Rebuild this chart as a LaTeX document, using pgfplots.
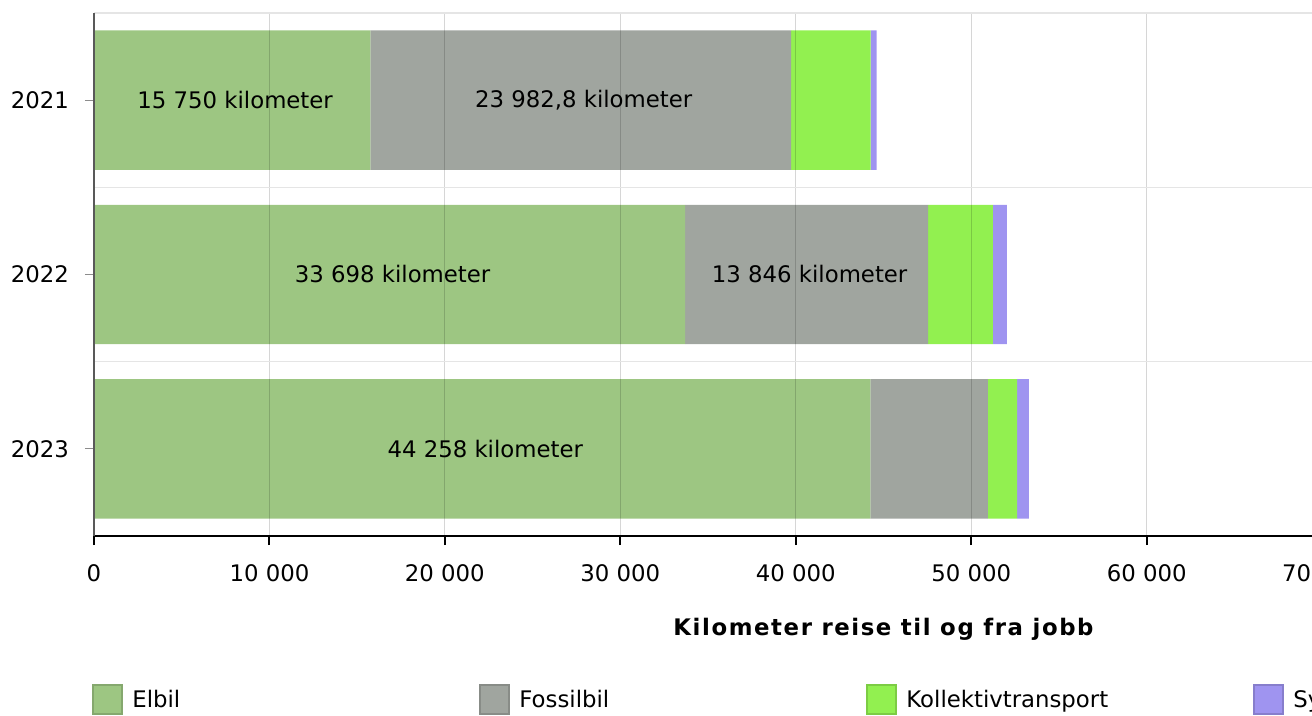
\documentclass[border=0pt]{standalone}
\usepackage{fontspec}
\setmainfont{DejaVu Sans}
\usepackage{pgfplots}
\pgfplotsset{compat=1.18}
\definecolor{elbil}{HTML}{9DC682}
\definecolor{fossil}{HTML}{A0A59F}
\definecolor{koll}{HTML}{92F050}
\definecolor{sykkel}{HTML}{9F94F0}
\newcommand{\fs}{\fontsize{11.4}{13.5}\selectfont}
\begin{document}
\begin{tikzpicture}[font=\fs]
\path[use as bounding box] (0pt,-358pt) rectangle (656pt,0pt);
\clip (0pt,-358pt) rectangle (656pt,0pt);
\begin{axis}[
  at={(47pt,-268pt)}, anchor=south west,
  scale only axis, width=789.5pt, height=261.5pt,
  xbar stacked, bar width=0.8,
  xmin=0, xmax=90000, ymin=-0.5, ymax=2.5,
  xtick={0,10000,...,90000},
  ytick={0,1,2}, yticklabels={2023,2022,2021},
  minor ytick={0.5,1.5,2.5},
  /pgf/number format/assume math mode=true,
  /pgf/number format/1000 sep={\ },
  scaled x ticks=false,
  axis x line*=bottom, axis y line*=left,
  x axis line style={black, line width=1pt},
  y axis line style={black!65, line width=1pt},
  xtick style={black, line width=1pt},
  ytick style={black!45, line width=0.5pt},
  tick align=outside, major tick length=4.5pt, minor tick length=0pt,
  xticklabel style={font=\fs, yshift=-6.5pt},
  yticklabel style={font=\fs, xshift=-4.5pt},
  xmajorgrids, yminorgrids,
  major grid style={black, opacity=0.16, line width=0.6pt},
  minor grid style={black!10, line width=0.6pt},
  axis on top,
  xlabel={Kilometer reise til og fra jobb},
  xlabel style={font=\fontsize{11.4}{13.5}\selectfont\bfseries\addfontfeature{LetterSpace=7}, at={(axis description cs:0.5,0)}, anchor=center, yshift=-46.5pt},
  legend columns=4,
  legend style={font=\fs, at={(0,0)}, anchor=north west, xshift=-1pt, yshift=-74pt, draw=none, inner sep=0pt, nodes={inner sep=0pt}, /tikz/every even column/.append style={column sep=0pt}},
  legend cell align=left,
]
\addplot[fill=elbil, draw=none, legend image code/.code={\draw[fill=elbil, draw=elbil!85!black, line width=1pt] (0.5pt,-7.25pt) rectangle (15pt,7.25pt);}] coordinates {(15750,2) (33698,1) (44258,0)};
\addlegendentry{\hspace*{4.5pt}\makebox[173.5pt][l]{Elbil}}
\addplot[fill=fossil, draw=none, legend image code/.code={\draw[fill=fossil, draw=fossil!85!black, line width=1pt] (0.5pt,-7.25pt) rectangle (15pt,7.25pt);}] coordinates {(23982.8,2) (13846,1) (6685,0)};
\addlegendentry{\hspace*{4.5pt}\makebox[173.5pt][l]{Fossilbil}}
\addplot[fill=koll, draw=none, legend image code/.code={\draw[fill=koll, draw=koll!85!black, line width=1pt] (0.5pt,-7.25pt) rectangle (15pt,7.25pt);}] coordinates {(4540,2) (3690,1) (1670,0)};
\addlegendentry{\hspace*{4.5pt}\makebox[173.5pt][l]{Kollektivtransport}}
\addplot[fill=sykkel, draw=none, legend image code/.code={\draw[fill=sykkel, draw=sykkel!85!black, line width=1pt] (0.5pt,-7.25pt) rectangle (15pt,7.25pt);}] coordinates {(340,2) (800,1) (680,0)};
\addlegendentry{\hspace*{4.5pt}\makebox[173.5pt][l]{Sykkel og gange}}
\end{axis}
\begin{axis}[
  at={(47pt,-268pt)}, anchor=south west,
  scale only axis, width=789.5pt, height=261.5pt,
  xmin=0, xmax=90000, ymin=-0.5, ymax=2.5,
  hide axis,
]
\addplot[only marks, mark=none, nodes near coords, point meta=explicit symbolic,
  nodes near coords style={anchor=center, text=black, font=\fs, xshift=1.5pt}]
  coordinates {
    (7875,2) [{15 750 kilometer}]
    (27741.4,2) [{23 982,8 kilometer}]
    (16849,1) [{33 698 kilometer}]
    (40621,1) [{13 846 kilometer}]
    (22129,0) [{44 258 kilometer}]
  };
\end{axis}
\end{tikzpicture}
\end{document}
